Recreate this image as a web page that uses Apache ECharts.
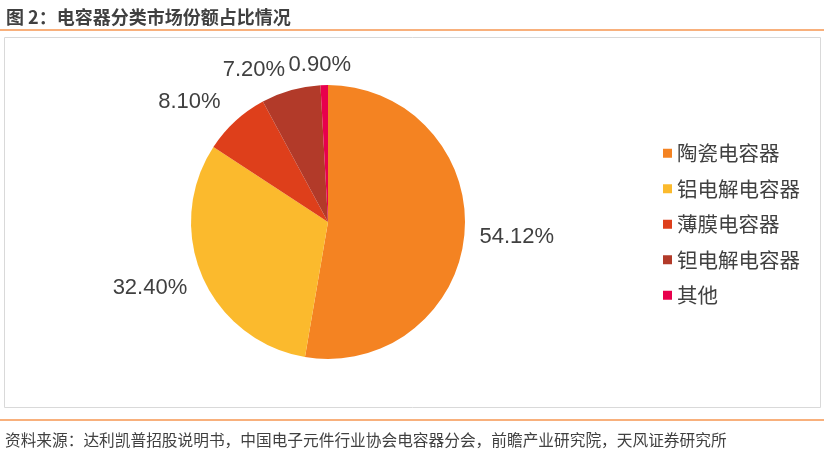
<!DOCTYPE html>
<html>
<head>
<meta charset="utf-8">
<script src="https://cdn.jsdelivr.net/npm/echarts@6/dist/echarts.min.js"></script>
<style>
  html, body { margin: 0; padding: 0; background: #fff; }
  #chart { width: 824px; height: 452px; }
</style>
</head>
<body>
<div id="chart"></div>
<script>
// 电容器分类市场份额占比
var names = ['陶瓷电容器', '铝电解电容器', '薄膜电容器', '钽电解电容器', '其他'];
var shares = [54.12, 32.40, 8.10, 7.20, 0.90];
var colors = ['#F48322', '#FBBA2D', '#DE3F1B', '#B23A29', '#E8004C'];
// 标签微调 (像Excel的最佳位置)
var labelNudge = [[0, 3], [-1, 7], [-3, -12], [2, -11], [32, -10]];

var pieData = [];
for (var i = 0; i < names.length; i++) {
    pieData.push({ name: names[i], value: shares[i], itemStyle: { color: colors[i] } });
}

var myChart = echarts.init(document.getElementById('chart'));
var option = {
    animation: false,
    title: [{
        text: '图 2：电容器分类市场份额占比情况',
        left: 1,
        top: 3,
        textStyle: { fontSize: 18, fontWeight: 'bold', color: '#404040', fontFamily: 'Noto Sans CJK SC' }
    }, {
        text: '资料来源：达利凯普招股说明书，中国电子元件行业协会电容器分会，前瞻产业研究院，天风证券研究所',
        left: 0,
        top: 427,
        textStyle: { fontSize: 15.7, fontWeight: 'normal', color: '#404040', fontFamily: 'Noto Sans CJK SC' }
    }],
    graphic: [
        { type: 'rect', shape: { x: 0, y: 29, width: 824, height: 2 }, style: { fill: '#F8B07C' } },
        { type: 'rect', shape: { x: 4.5, y: 37.5, width: 816, height: 370 }, style: { fill: 'none', stroke: '#D9D9D9', lineWidth: 1 } },
        { type: 'rect', shape: { x: 0, y: 419, width: 824, height: 2 }, style: { fill: '#F8B07C' } }
    ],
    legend: {
        orient: 'vertical',
        left: 658,
        top: 138,
        itemWidth: 9,
        itemHeight: 9,
        itemGap: 15,
        icon: 'rect',
        textStyle: { fontSize: 20.5, color: '#404040', fontFamily: 'Noto Sans CJK SC' },
        data: names
    },
    series: [{
        type: 'pie',
        center: [328, 222],
        radius: 137,
        startAngle: 90,
        clockwise: true,
        avoidLabelOverlap: false,
        data: pieData,
        label: {
            show: true,
            position: 'outside',
            formatter: function (p) { return p.value.toFixed(2) + '%'; },
            fontSize: 22,
            color: '#404040',
            fontFamily: 'Liberation Sans'
        },
        labelLine: { show: false, length: 10, length2: 0 },
        labelLayout: function (params) {
            var n = labelNudge[params.dataIndex];
            return { dx: n[0], dy: n[1] };
        },
        emphasis: { disabled: true }
    }]
};
myChart.setOption(option);
</script>
</body>
</html>
